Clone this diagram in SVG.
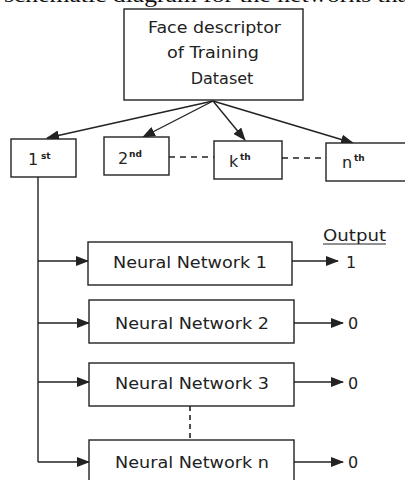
<svg xmlns="http://www.w3.org/2000/svg" width="405" height="480" viewBox="0 0 405 480">
<defs>
<style>
.box{fill:#fff;stroke:#222;stroke-width:1.4}
.ln{fill:none;stroke:#222;stroke-width:1.4}
.dash{fill:none;stroke:#222;stroke-width:1.6;stroke-dasharray:6,5}
.t{font-family:"DejaVu Sans",Verdana,sans-serif;fill:#222;font-size:16px}
.sup{font-family:"DejaVu Sans",Verdana,sans-serif;fill:#222;font-size:9px;font-weight:bold}
.cap{font-family:"Liberation Serif","Times New Roman",serif;fill:#111;font-size:22px}
</style>
<marker id="ah" markerUnits="userSpaceOnUse" markerWidth="13" markerHeight="10" refX="12" refY="5" orient="auto">
<path d="M0,0 L13,5 L0,10 Z" fill="#222"/>
</marker>
</defs>
<rect width="405" height="480" fill="#fff"/>
<text class="cap" x="4" y="2" textLength="412" lengthAdjust="spacingAndGlyphs">schematic diagram for the networks that</text>

<g id="connectors">
<line class="ln" x1="213" y1="101" x2="47" y2="138" marker-end="url(#ah)"/>
<line class="ln" x1="213" y1="101" x2="143" y2="137" marker-end="url(#ah)"/>
<line class="ln" x1="213" y1="101" x2="245" y2="140" marker-end="url(#ah)"/>
<line class="ln" x1="213" y1="101" x2="353" y2="143" marker-end="url(#ah)"/>
<line class="dash" x1="169" y1="157" x2="214" y2="157"/>
<line class="dash" x1="282" y1="158" x2="326" y2="158"/>
<polyline class="ln" points="38,177 38,462"/>
<line class="ln" x1="38" y1="261" x2="88" y2="261" marker-end="url(#ah)"/>
<line class="ln" x1="38" y1="323" x2="89" y2="323" marker-end="url(#ah)"/>
<line class="ln" x1="38" y1="382" x2="89" y2="382" marker-end="url(#ah)"/>
<line class="ln" x1="38" y1="462" x2="89" y2="462" marker-end="url(#ah)"/>
<line class="ln" x1="292" y1="261" x2="338" y2="261" marker-end="url(#ah)"/>
<line class="ln" x1="294" y1="323" x2="343" y2="323" marker-end="url(#ah)"/>
<line class="ln" x1="294" y1="382" x2="343" y2="382" marker-end="url(#ah)"/>
<line class="ln" x1="294" y1="462" x2="343" y2="462" marker-end="url(#ah)"/>
<line class="dash" x1="190" y1="406" x2="190" y2="440" style="stroke-dasharray:5,4"/>
</g>

<g id="dataset">
<rect class="box" x="124" y="9" width="179" height="91"/>
<text class="t" x="148" y="33" textLength="133" lengthAdjust="spacingAndGlyphs">Face descriptor</text>
<text class="t" x="167" y="58" textLength="92" lengthAdjust="spacingAndGlyphs">of Training</text>
<text class="t" x="222" y="84" text-anchor="middle">Dataset</text>
</g>

<g id="n1st">
<rect class="box" x="11" y="139" width="65" height="38"/>
<text class="t" x="28" y="165">1</text><text class="sup" x="41" y="159">st</text>
</g>
<g id="n2nd">
<rect class="box" x="104" y="137" width="65" height="38"/>
<text class="t" x="118" y="164">2</text><text class="sup" x="129" y="157">nd</text>
</g>
<g id="nkth">
<rect class="box" x="214" y="141" width="68" height="38"/>
<text class="t" x="229" y="167">k</text><text class="sup" x="240" y="160">th</text>
</g>
<g id="nnth">
<rect class="box" x="326" y="143" width="80" height="38"/>
<text class="t" x="342" y="168">n</text><text class="sup" x="354" y="161">th</text>
</g>

<g id="output-label">
<text class="t" x="323" y="241" textLength="63" lengthAdjust="spacingAndGlyphs">Output</text>
<line x1="323" y1="244" x2="386" y2="244" stroke="#222" stroke-width="1"/>
</g>

<g id="nn1">
<rect class="box" x="88" y="242" width="204" height="43"/>
<text class="t" x="113" y="268" textLength="154" lengthAdjust="spacingAndGlyphs">Neural Network 1</text>
<text class="t" x="346" y="268">1</text>
</g>
<g id="nn2">
<rect class="box" x="89" y="300" width="205" height="43"/>
<text class="t" x="115" y="329" textLength="154" lengthAdjust="spacingAndGlyphs">Neural Network 2</text>
<text class="t" x="348" y="329">0</text>
</g>
<g id="nn3">
<rect class="box" x="89" y="363" width="205" height="43"/>
<text class="t" x="115" y="389" textLength="154" lengthAdjust="spacingAndGlyphs">Neural Network 3</text>
<text class="t" x="348" y="389">0</text>
</g>
<g id="nnn">
<rect class="box" x="89" y="440" width="205" height="45"/>
<text class="t" x="115" y="468" textLength="154" lengthAdjust="spacingAndGlyphs">Neural Network n</text>
<text class="t" x="348" y="468">0</text>
</g>
</svg>
